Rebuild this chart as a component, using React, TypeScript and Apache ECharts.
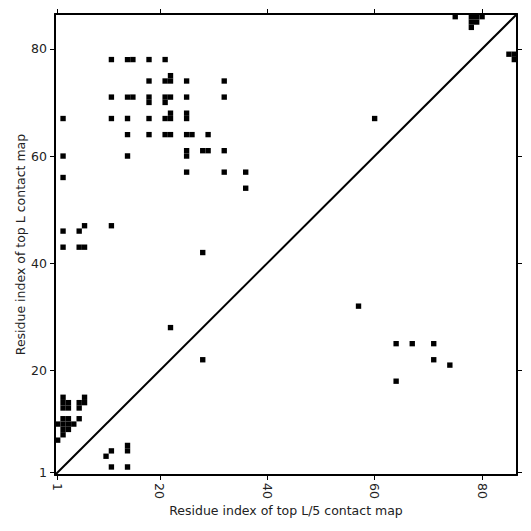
import React, { useEffect, useRef } from "react";
import * as echarts from "echarts";

const seqLength = 86;
const tickValues = [1, 20, 40, 60, 80];

// top L contacts (upper triangle), [x, y]
const topLContacts: [number, number][] = [
  [75, 86], [78, 86], [79, 86], [80, 86],
  [78, 85], [79, 85], [78, 84],
  [11, 78], [14, 78], [15, 78], [18, 78], [21, 78],
  [22, 75],
  [18, 74], [21, 74], [22, 74], [25, 74], [32, 74],
  [11, 71], [14, 71], [15, 71], [18, 71], [21, 71], [22, 71], [25, 71], [32, 71],
  [18, 70], [21, 70],
  [22, 68], [25, 68],
  [2, 67], [11, 67], [14, 67], [18, 67], [21, 67], [22, 67], [25, 67],
  [14, 64], [18, 64], [21, 64], [22, 64], [25, 64], [26, 64], [29, 64],
  [25, 61], [28, 61], [29, 61], [32, 61],
  [2, 60], [14, 60], [25, 60],
  [25, 57], [32, 57], [36, 57],
  [2, 56], [36, 54],
  [6, 47], [11, 47], [2, 46], [5, 46],
  [2, 43], [5, 43], [6, 43],
  [28, 42], [22, 28],
  [2, 15], [6, 15],
  [2, 14], [3, 14], [5, 14], [6, 14],
  [2, 13], [3, 13], [5, 13],
  [2, 11], [3, 11], [5, 11],
  [1, 10], [2, 10], [3, 10], [4, 10],
  [2, 9], [3, 9], [2, 8], [1, 7],
];

// top L/5 contacts (lower triangle), [x, y]
const topL5Contacts: [number, number][] = [
  [85, 79], [86, 79], [86, 78],
  [60, 67], [57, 32],
  [64, 25], [67, 25], [71, 25], [71, 22], [74, 21], [64, 18],
  [28, 22],
  [14, 6], [11, 5], [14, 5], [10, 4], [11, 2], [14, 2],
];

const xAxisTitle = "Residue index of top L/5 contact map";
const yAxisTitle = "Residue index of top L contact map";

const FONT = "DejaVu Sans";
const FS = 12.5;

export default function App() {
  const ref = useRef<HTMLDivElement>(null);
  useEffect(() => {
    if (!ref.current) return;
    const chart = echarts.init(ref.current, null, { renderer: "svg" });
    const lo = 0.5;
    const hi = seqLength + 0.5;
    const cellSeries = (name: string, data: [number, number][]) => ({
      type: "custom",
      name,
      data,
      xAxisIndex: 0,
      yAxisIndex: 0,
      renderItem: (params: any, api: any) => {
        const x = api.value(0);
        const y = api.value(1);
        const p1 = api.coord([x - 0.5, y + 0.5]);
        const p2 = api.coord([x + 0.5, y - 0.5]);
        return {
          type: "rect",
          shape: { x: p1[0], y: p1[1], width: p2[0] - p1[0], height: p2[1] - p1[1] },
          style: { fill: "#000" },
        };
      },
    });
    const baseAxis = {
      type: "value",
      min: lo,
      max: hi,
      splitLine: { show: false },
      axisLine: { show: true, onZero: false, lineStyle: { color: "#000", width: 2 } },
      axisTick: { show: true, customValues: tickValues, length: 5, lineStyle: { color: "#000", width: 1 } },
    };
    chart.setOption({
      animation: false,
      backgroundColor: "#fff",
      grid: { left: 55, right: 14, top: 14, bottom: 56, containLabel: false, outerBoundsMode: "none" },
      xAxis: [
        {
          ...baseAxis,
          position: "bottom",
          name: xAxisTitle,
          nameLocation: "middle",
          nameGap: 29,
          nameMoveOverlap: false,
          nameTextStyle: { fontFamily: FONT, fontSize: FS, color: "#222" },
          axisLabel: { customValues: tickValues, rotate: -90, margin: 8, fontFamily: FONT, fontSize: FS, color: "#222" },
        },
        { ...baseAxis, position: "top", axisLabel: { show: false } },
      ],
      yAxis: [
        {
          ...baseAxis,
          position: "left",
          name: yAxisTitle,
          nameLocation: "middle",
          nameGap: 28,
          nameMoveOverlap: false,
          nameTextStyle: { fontFamily: FONT, fontSize: FS, color: "#222" },
          axisLabel: { customValues: tickValues, margin: 8, fontFamily: FONT, fontSize: FS, color: "#222" },
        },
        { ...baseAxis, position: "right", axisLabel: { show: false } },
      ],
      series: [
        cellSeries("top L", topLContacts),
        cellSeries("top L/5", topL5Contacts),
        {
          type: "line",
          data: [[lo, lo], [hi, hi]],
          symbol: "none",
          lineStyle: { color: "#000", width: 2 },
          silent: true,
        },
      ],
    });
    return () => chart.dispose();
  }, []);
  return (
    <div
      ref={ref}
      style={{ position: "fixed", left: 0, top: 0, width: 531, height: 531 }}
    />
  );
}
